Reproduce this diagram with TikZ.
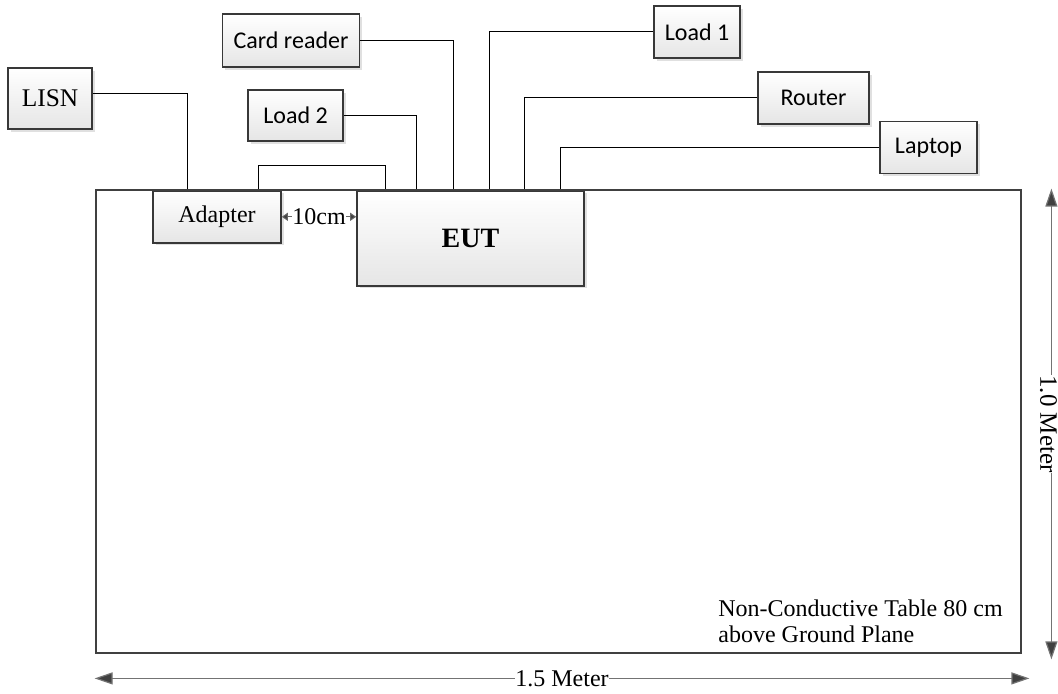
\documentclass[tikz,border=0pt]{standalone}
\usepackage{fontspec}
\setmainfont{Liberation Serif}
\newfontfamily\boxfont{Carlito}
\usetikzlibrary{arrows.meta,shadows,positioning}

\begin{document}
\begin{tikzpicture}[x=0.5pt,y=-0.5pt,
	box/.style={draw=black!78, line width=0.8pt, top color=white, bottom color=black!10, drop shadow={shadow xshift=1.3pt, shadow yshift=-1.3pt, fill=black!20, opacity=0.6}, inner sep=0pt, font=\fontsize{12}{14}\selectfont},
	sbox/.style={box, font=\boxfont\fontsize{12}{14}\selectfont},
	wire/.style={draw, line width=0.5pt},
	dim/.style={draw=black!55, line width=0.6pt, {Triangle[length=9pt,width=6pt,fill=black!75]}-{Triangle[length=9pt,width=6pt,fill=black!75]}, font=\fontsize{12}{14}\selectfont},
	gap/.style={draw=black!60, line width=0.5pt, {Triangle[length=3pt,width=4pt,fill=black!75]}-{Triangle[length=3pt,width=4pt,fill=black!75]}}]
	
	\useasboundingbox (0,0) rectangle (1058,694);
	
	\node [box, minimum width=42pt, minimum height=30.5pt, font=\fontsize{12.7}{14}\selectfont] (lisn) at (50,98.5) {LISN};
	\node [sbox, minimum width=68.5pt, minimum height=26.5pt] (card) at (291,40.5) {Card reader};
	\node [sbox, minimum width=47.5pt, minimum height=25.5pt] (load2) at (295.5,115.5) {Load 2};
	\node [box, anchor=north, minimum width=64pt, minimum height=26pt] (adapter) at (217,190) {Adapter};
	\node [box, anchor=north, minimum width=113.5pt, minimum height=47.5pt, font=\bfseries\fontsize{14}{16}\selectfont] (eut) at (470.5,190) {EUT};
	\node [sbox, minimum width=43pt, minimum height=26pt] (load1) at (697,32) {Load 1};
	\node [sbox, minimum width=55.5pt, minimum height=26pt] (router) at (813.5,98) {Router};
	\node [sbox, minimum width=48.5pt, minimum height=26pt] (laptop) at (928.5,147.5) {Laptop};
	
	\draw [wire] ([yshift=2.25pt]lisn.east) -| ([xshift=-15pt]adapter.north);
	\draw [wire] ([xshift=53pt]adapter.north west) -- ++(0,-24) -| ([xshift=14.5pt]eut.north west);
	\draw [wire] (load2.east) -| ([xshift=30pt]eut.north west);
	\draw [wire] (card.east) -| ([xshift=48.5pt]eut.north west);
	\draw [wire] (load1.west) -| ([xshift=66.5pt]eut.north west);
	\draw [wire] (router.west) -| ([xshift=84pt]eut.north west);
	\draw [wire] (laptop.west) -| ([xshift=102pt]eut.north west);
	
	\node [draw=black!75, line width=1.4pt, minimum width=462.5pt, minimum height=231.5pt, inner sep=0pt] (table) at (558.5,421.5) {};
	
	\draw [gap] (adapter.east) -- node [fill=white, inner sep=0.3pt, font=\fontsize{12}{13}\selectfont] {10cm} (adapter.east -| eut.west);
	\draw [dim] ([yshift=-12pt]table.south west) -- node [fill=white, inner sep=0.3pt] {1.5 Meter} ([xshift=3.5pt,yshift=-12pt]table.south east);
	\draw [dim] ([xshift=14.5pt]table.north east) -- node [fill=white, inner sep=0.3pt, xshift=-1.5pt, rotate=-90, font=\fontsize{12.5}{14}\selectfont] {1.0 Meter} ([xshift=14.5pt,yshift=-2.5pt]table.south east);
	
	\node [anchor=north west, align=left, inner sep=0pt, font=\fontsize{12}{13}\selectfont] (note) at (718,599) {Non-Conductive Table 80 cm\\above Ground Plane};
	
\end{tikzpicture}
\end{document}
